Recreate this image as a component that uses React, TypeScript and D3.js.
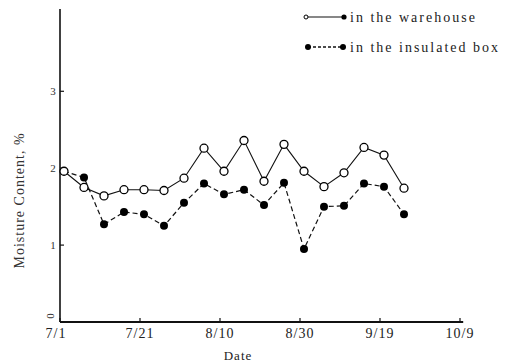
import React from "react";
import * as d3 from "d3";

// Days after 7/1 at which moisture was measured
const days = [1, 6, 11, 16, 21, 26, 31, 36, 41, 46, 51, 56, 61, 66, 71, 76, 81, 86];
// Moisture content (%) stored in the warehouse
const warehouse = [1.96, 1.75, 1.64, 1.72, 1.72, 1.71, 1.87, 2.26, 1.96, 2.36, 1.83, 2.31, 1.96, 1.76, 1.94, 2.27, 2.17, 1.74];
// Moisture content (%) stored in the insulated box
const insulated = [1.96, 1.88, 1.27, 1.43, 1.40, 1.25, 1.55, 1.80, 1.66, 1.72, 1.52, 1.81, 0.95, 1.50, 1.51, 1.80, 1.76, 1.40];

const xTickDays = [0, 20, 40, 60, 80, 100];
const xTickLabels = ["7/1", "7/21", "8/10", "8/30", "9/19", "10/9"];
const yTicks = [0, 1, 2, 3];
const legendLabels = ["in the warehouse", "in the insulated box"];

const W = 508;
const H = 364;
const FONT = "'Liberation Serif', 'DejaVu Serif', serif";

export default function App() {
  const x = d3.scaleLinear().domain([0, 100]).range([60, 460]);
  const y = d3.scaleLinear().domain([0, 4.07]).range([322, 9]);

  const line = d3
    .line<number>()
    .x((_, i) => x(days[i]))
    .y((v) => y(v));

  return (
    <svg
      width={W}
      height={H}
      style={{ position: "absolute", left: 0, top: 0, background: "#fff" }}
      fontFamily={FONT}
    >
      {/* axes */}
      <line x1={x(0)} x2={x(0)} y1={y(4.07)} y2={y(0)} stroke="#111" strokeWidth={1.6} />
      <line x1={x(0)} x2={x(100.8)} y1={y(0)} y2={y(0)} stroke="#111" strokeWidth={1.8} />

      {yTicks.map((t) => (
        <g key={`y${t}`}>
          <line x1={x(0)} x2={x(0) + 4} y1={y(t)} y2={y(t)} stroke="#111" strokeWidth={1.2} />
          {t > 0 && (
            <text x={x(0) - 7} y={y(t)} dy="0.35em" textAnchor="middle" fontSize={11} fill="#333">
              {t}
            </text>
          )}
        </g>
      ))}
      <text
        transform={`translate(${x(0) - 10},${y(0) - 6}) rotate(-90)`}
        textAnchor="middle"
        dy="0.35em"
        fontSize={11}
        fill="#333"
      >
        0
      </text>

      {xTickDays.map((d, i) => (
        <g key={`x${d}`}>
          <line x1={x(d)} x2={x(d)} y1={y(0)} y2={y(0) - 4} stroke="#111" strokeWidth={1.2} />
          <text
            x={x(d) + (i === 0 ? -4 : 0)}
            y={y(0) + 16}
            textAnchor="middle"
            fontSize={14}
            letterSpacing={1}
            fill="#222"
          >
            {xTickLabels[i]}
          </text>
        </g>
      ))}

      <text x={238} y={360} textAnchor="middle" fontSize={13} letterSpacing={1} fill="#222">
        Date
      </text>
      <text
        transform={`translate(19,${y(1.58)}) rotate(-90)`}
        textAnchor="middle"
        dy="0.35em"
        fontSize={14}
        letterSpacing={1}
        fill="#333"
      >
        Moisture Content, %
      </text>

      {/* series */}
      <path d={line(warehouse) ?? ""} fill="none" stroke="#111" strokeWidth={1.1} />
      <path d={line(insulated) ?? ""} fill="none" stroke="#111" strokeWidth={1.2} strokeDasharray="5,3" />

      {insulated.map((v, i) => (
        <circle key={`b${i}`} cx={x(days[i])} cy={y(v)} r={4} fill="#000" />
      ))}
      {warehouse.map((v, i) => (
        <circle key={`w${i}`} cx={x(days[i])} cy={y(v)} r={4} fill="#fff" stroke="#000" strokeWidth={1.3} />
      ))}

      {/* legend */}
      <g>
        <line x1={306} x2={344} y1={17} y2={17} stroke="#111" strokeWidth={1.1} />
        <circle cx={306} cy={17} r={2} fill="#fff" stroke="#000" strokeWidth={1} />
        <circle cx={344} cy={17} r={2.6} fill="#000" />
        <text x={350} y={17} dy="0.35em" fontSize={14} letterSpacing={2} fill="#222">
          {legendLabels[0]}
        </text>

        <line x1={308} x2={343} y1={47} y2={47} stroke="#111" strokeWidth={1.4} strokeDasharray="3,2" />
        <circle cx={308} cy={47} r={3} fill="#000" />
        <circle cx={343} cy={47} r={3} fill="#000" />
        <text x={350} y={47} dy="0.35em" fontSize={14} letterSpacing={2} fill="#222">
          {legendLabels[1]}
        </text>
      </g>
    </svg>
  );
}
